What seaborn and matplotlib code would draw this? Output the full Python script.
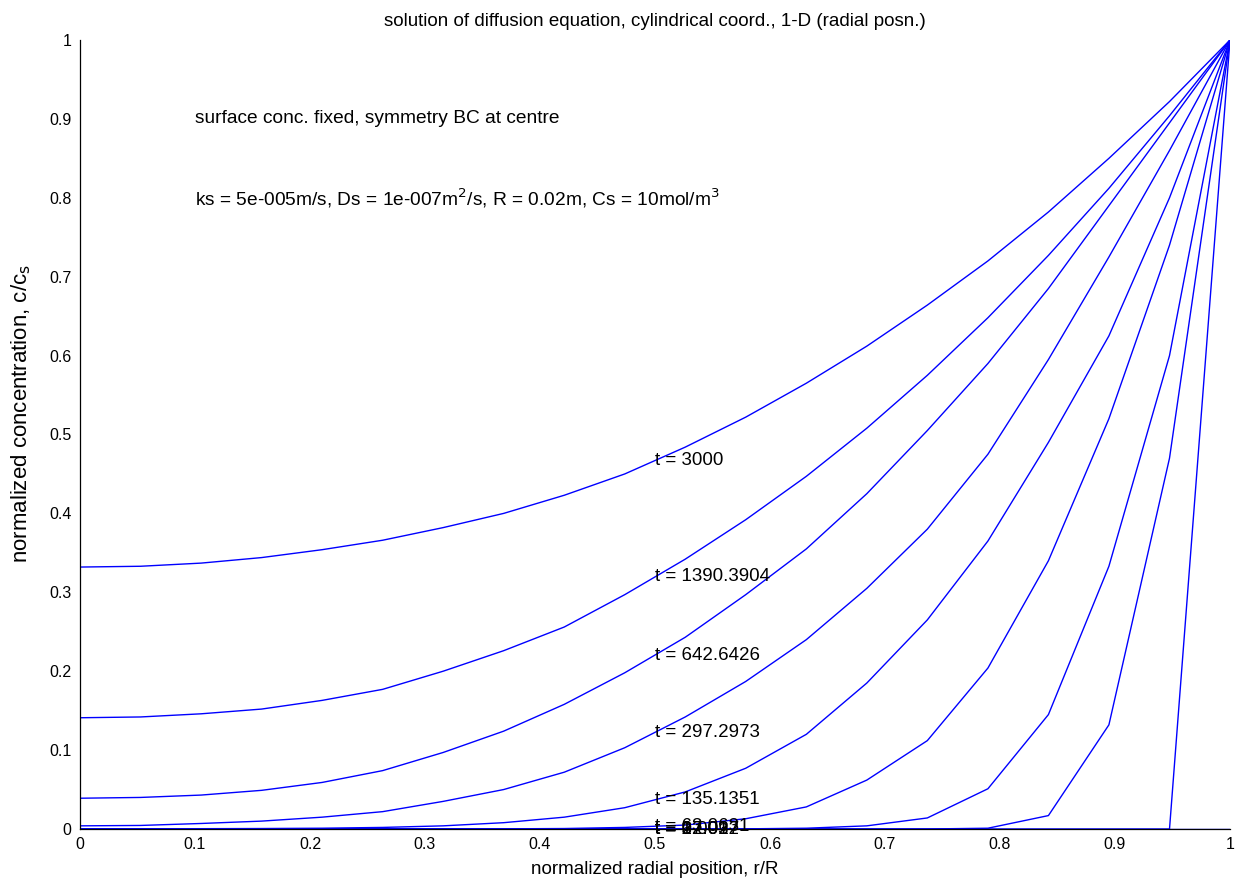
import numpy as np
import pandas as pd
import matplotlib
matplotlib.use("Agg")
import matplotlib.pyplot as plt
import seaborn as sns

# ---------------- data ----------------
r_pos = [0.0, 0.0526, 0.1053, 0.1579, 0.2105, 0.2632, 0.3158, 0.3684, 0.4211, 0.4737,
         0.5263, 0.5789, 0.6316, 0.6842, 0.7368, 0.7895, 0.8421, 0.8947, 0.9474, 1.0]

t_labels = ["0", "3.003", "12.012", "27.027", "63.0631", "135.1351",
            "297.2973", "642.6426", "1390.3904", "3000"]

c_t0 = [0, 0, 0, 0, 0, 0, 0, 0, 0, 0, 0, 0, 0, 0, 0, 0, 0, 0, 0, 0]
c_t3 = [0, 0, 0, 0, 0, 0, 0, 0, 0, 0, 0, 0, 0, 0, 0, 0, 0, 0, 0, 1.0]
c_t12 = [0, 0, 0, 0, 0, 0, 0, 0, 0, 0, 0, 0, 0, 0, 0, 0.001, 0.017, 0.132, 0.47, 1.0]
c_t27 = [0, 0, 0, 0, 0, 0, 0, 0, 0, 0, 0, 0.0002, 0.001, 0.004, 0.014, 0.051, 0.145,
         0.333, 0.60, 1.0]
c_t63 = [0, 0, 0, 0, 0, 0, 0, 0.0002, 0.0006, 0.002, 0.005, 0.013, 0.028, 0.062, 0.112,
         0.204, 0.34, 0.52, 0.74, 1.0]
c_t135 = [0.0003, 0.0003, 0.0004, 0.0006, 0.001, 0.002, 0.004, 0.008, 0.015, 0.027,
          0.047, 0.077, 0.12, 0.185, 0.265, 0.365, 0.49, 0.625, 0.80, 1.0]
c_t297 = [0.004, 0.0045, 0.007, 0.010, 0.015, 0.022, 0.035, 0.050, 0.072, 0.103,
          0.142, 0.187, 0.24, 0.305, 0.38, 0.475, 0.595, 0.725, 0.86, 1.0]
c_t643 = [0.039, 0.040, 0.043, 0.049, 0.059, 0.074, 0.097, 0.124, 0.158, 0.198,
          0.243, 0.297, 0.355, 0.425, 0.505, 0.59, 0.685, 0.79, 0.895, 1.0]
c_t1390 = [0.141, 0.142, 0.146, 0.152, 0.163, 0.177, 0.200, 0.226, 0.256, 0.297,
           0.342, 0.392, 0.447, 0.508, 0.575, 0.648, 0.727, 0.812, 0.904, 1.0]
c_t3000 = [0.332, 0.333, 0.337, 0.344, 0.354, 0.366, 0.382, 0.400, 0.423, 0.450,
           0.484, 0.522, 0.565, 0.612, 0.664, 0.72, 0.782, 0.85, 0.922, 1.0]

profiles = [c_t0, c_t3, c_t12, c_t27, c_t63, c_t135, c_t297, c_t643, c_t1390, c_t3000]

tick_vals = [0, 0.1, 0.2, 0.3, 0.4, 0.5, 0.6, 0.7, 0.8, 0.9, 1]
tick_text = ["0", "0.1", "0.2", "0.3", "0.4", "0.5", "0.6", "0.7", "0.8", "0.9", "1"]

# ---------------- long table ----------------
rows = []
for lab, prof in zip(t_labels, profiles):
    for x, c in zip(r_pos, prof):
        rows.append({"r": x, "c": c, "t": lab})
df = pd.DataFrame(rows)

# ---------------- style ----------------
sns.set_style("white")
plt.rcParams["font.family"] = ["Liberation Sans", "DejaVu Sans"]
plt.rcParams["xtick.direction"] = "in"
plt.rcParams["ytick.direction"] = "in"

fig = plt.figure(figsize=(12.44, 8.86), dpi=100)
ax = fig.add_axes([80 / 1244, 1 - 829 / 886, 1150 / 1244, 789 / 886])

sns.lineplot(data=df, x="r", y="c", units="t", estimator=None, sort=False,
             color="#0000FF", linewidth=1.0, ax=ax, legend=False)

for lab, prof in zip(t_labels, profiles):
    ax.text(0.5, float(np.interp(0.5, r_pos, prof)), f"t = {lab}",
            ha="left", va="center", fontsize=13.5, color="black")

ax.text(0.1, 0.9, "surface conc. fixed, symmetry BC at centre",
        ha="left", va="center", fontsize=13.8, color="black")
ax.text(0.1, 0.8, r"ks = 5e-005m/s, Ds = 1e-007m$^2$/s, R = 0.02m, Cs = 10mol/m$^3$",
        ha="left", va="center", fontsize=13.8, color="black")

ax.set_xlim(0, 1)
ax.set_ylim(0, 1)
ax.set_xticks(tick_vals)
ax.set_xticklabels(tick_text)
ax.set_yticks(tick_vals)
ax.set_yticklabels(tick_text)
ax.tick_params(axis="both", length=8, width=0.8, labelsize=11.5, colors="black",
               pad=6)

for side in ["top", "right"]:
    ax.spines[side].set_visible(False)
for side in ["left", "bottom"]:
    ax.spines[side].set_color("black")
    ax.spines[side].set_linewidth(0.9)

ax.set_xlabel("normalized radial position, r/R", fontsize=13.5, color="black")
ax.set_ylabel(r"normalized concentration, c/c$_{\mathrm{s}}$", fontsize=16, color="black")
ax.xaxis.set_label_coords(0.5, -0.041)
ax.yaxis.set_label_coords(-0.041, 0.527)
ax.set_title("solution of diffusion equation, cylindrical coord., 1-D (radial posn.)",
             fontsize=13.5, color="black", pad=10)

fig.savefig("out.png", dpi=100, facecolor="white")
